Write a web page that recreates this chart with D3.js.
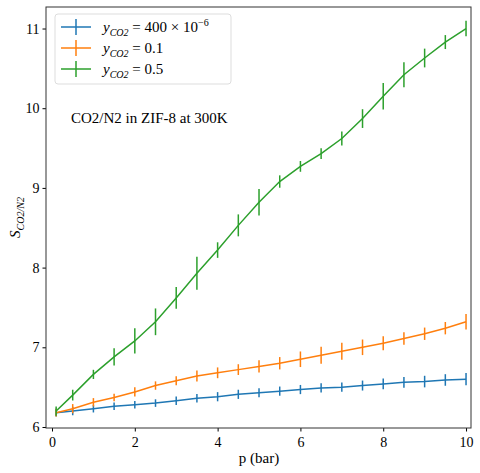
<!DOCTYPE html><html><head><meta charset="utf-8"><script src="https://cdn.jsdelivr.net/npm/d3@7"></script>
<style>body{margin:0;background:#fff}text{font-family:"Liberation Serif",serif}</style></head><body><svg id="c" width="480" height="473"></svg><script>
const pressures=[0.1,0.5,1,1.5,2,2.5,3,3.5,4,4.5,5,5.5,6,6.5,7,7.5,8,8.5,9,9.5,10];
const blueVals=[6.18,6.2,6.23,6.26,6.28,6.3,6.33,6.36,6.38,6.41,6.43,6.45,6.47,6.49,6.5,6.52,6.54,6.56,6.57,6.59,6.6];
const blueErr=[0.01,0.015,0.01,0.01,0.01,0.01,0.015,0.015,0.02,0.02,0.02,0.02,0.02,0.02,0.02,0.025,0.03,0.03,0.035,0.035,0.04];
const orangeVals=[6.18,6.23,6.31,6.37,6.44,6.52,6.58,6.64,6.68,6.72,6.76,6.8,6.85,6.9,6.95,7.0,7.05,7.11,7.17,7.24,7.32];
const orangeErr=[0.01,0.02,0.015,0.01,0.02,0.015,0.02,0.03,0.03,0.03,0.04,0.04,0.06,0.07,0.07,0.06,0.05,0.04,0.04,0.04,0.06];
const greenVals=[6.2,6.4,6.66,6.88,7.08,7.32,7.62,7.93,8.22,8.53,8.82,9.08,9.27,9.43,9.62,9.87,10.15,10.42,10.63,10.83,11.0];
const greenErr=[0.02,0.03,0.02,0.07,0.12,0.13,0.1,0.17,0.06,0.1,0.13,0.04,0.03,0.03,0.05,0.08,0.13,0.12,0.08,0.05,0.06];
const xTicks=[0,2,4,6,8,10], yTicks=[6,7,8,9,10,11];
const series=[{v:blueVals,e:blueErr,c:"#1f77b4",l:"400 × 10",sup:"−6"},{v:orangeVals,e:orangeErr,c:"#ff7f0e",l:"0.1"},{v:greenVals,e:greenErr,c:"#2ca02c",l:"0.5"}];
const svg=d3.select("#c"),L=46,R=471,T=7,B=428;
const x=d3.scaleLinear().domain([-0.145,10.12]).range([L,R]);
const y=d3.scaleLinear().domain([6,11.27]).range([427,T]);
const g=svg.append("g");
g.append("g").attr("transform",`translate(0,${B})`).call(d3.axisBottom(x).tickValues(xTicks).tickFormat(d3.format("d")).tickSize(3.5).tickSizeOuter(0)).call(a=>{a.select(".domain").remove();a.selectAll("text").attr("font-size",14).attr("dy","0.9em")});
g.append("g").attr("transform",`translate(${L},0)`).call(d3.axisLeft(y).tickValues(yTicks).tickFormat(d3.format("d")).tickSize(3.5).tickSizeOuter(0)).call(a=>{a.select(".domain").remove();a.selectAll("text").attr("font-size",14)});
series.forEach(s=>{
 const gg=g.append("g");
 gg.append("path").datum(pressures).attr("fill","none").attr("stroke",s.c).attr("stroke-width",1.5).attr("d",d3.line().x(d=>x(d)).y((d,i)=>y(s.v[i])));
 gg.selectAll("line").data(pressures).join("line").attr("x1",d=>x(d)).attr("x2",d=>x(d)).attr("y1",(d,i)=>y(s.v[i]-s.e[i])+3).attr("y2",(d,i)=>y(s.v[i]+s.e[i])-3).attr("stroke",s.c).attr("stroke-width",1.5);
});
g.append("rect").attr("x",L).attr("y",T).attr("width",R-L).attr("height",B-T).attr("fill","none").attr("stroke","#333").attr("stroke-width",1);
svg.append("text").attr("x",x(5)).attr("y",463).attr("text-anchor","middle").attr("font-size",15).text("p (bar)");
const yl=svg.append("text").attr("transform",`translate(20,${(T+B)/2}) rotate(-90)`).attr("text-anchor","middle").attr("font-size",15);
yl.append("tspan").attr("font-style","italic").text("S");
yl.append("tspan").attr("font-style","italic").attr("font-size",10).attr("dy",4).text("CO2/N2");
const lg=svg.append("g");
lg.append("rect").attr("x",55).attr("y",14).attr("width",176).attr("height",70).attr("rx",3).attr("fill","#fff").attr("stroke","#ddd");
series.forEach((s,i)=>{const yy=27+i*21;
 lg.append("line").attr("x1",61).attr("x2",91).attr("y1",yy).attr("y2",yy).attr("stroke",s.c).attr("stroke-width",1.5);
 lg.append("line").attr("x1",76).attr("x2",76).attr("y1",yy-8).attr("y2",yy+8).attr("stroke",s.c).attr("stroke-width",1.5);
 const t=lg.append("text").attr("x",103).attr("y",yy+5).attr("font-size",15);
 t.append("tspan").attr("font-style","italic").text("y");
 t.append("tspan").attr("font-style","italic").attr("font-size",10).attr("dy",4).text("CO2");
 t.append("tspan").attr("dy",-4).text(" = "+s.l);
 if(s.sup) t.append("tspan").attr("font-size",10).attr("dy",-6).text(s.sup);
});
svg.append("text").attr("x",71).attr("y",123).attr("font-size",15).text("CO2/N2 in ZIF-8 at 300K");
</script></body></html>
